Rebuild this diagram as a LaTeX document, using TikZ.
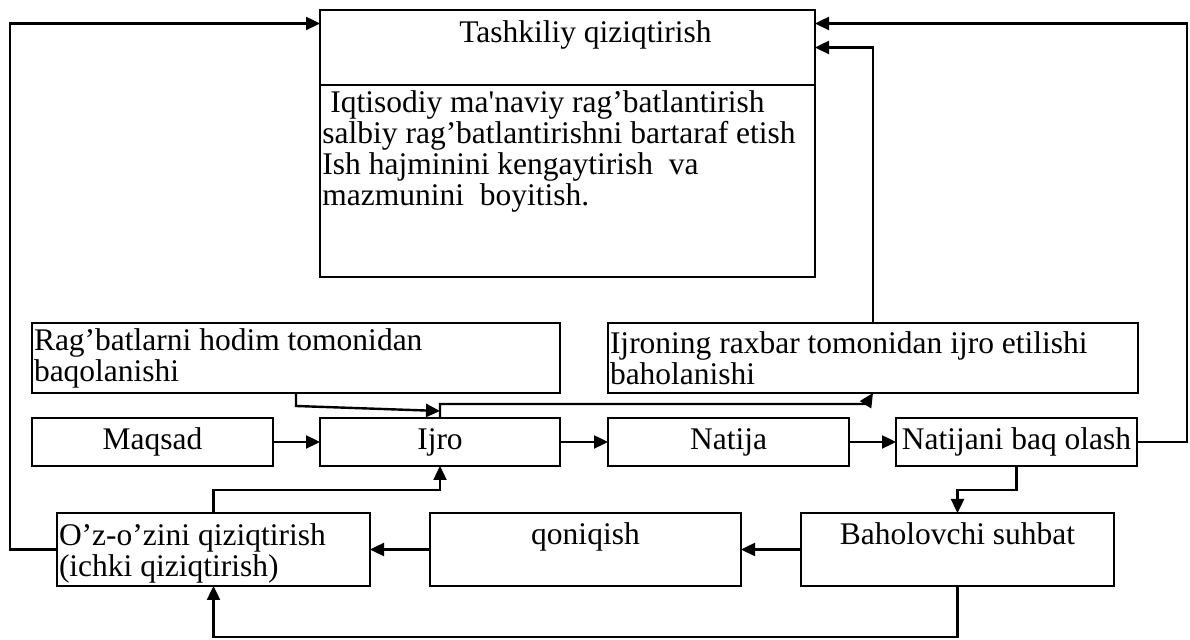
\documentclass[tikz,border=0pt]{standalone}
\usepackage{fontspec}
\setmainfont{Liberation Serif}
\usetikzlibrary{arrows.meta,positioning,calc}

\begin{document}
\begin{tikzpicture}[
  x=0.5pt, y=-0.5pt,
  font=\fontsize{15.75}{15.5}\selectfont,
  bx/.style={draw, line width=0.9pt, inner sep=1pt, outer sep=0pt, minimum height=24pt},
  lbx/.style={bx, align=flush left, minimum height=35pt},
  arr/.style={-{Triangle[length=7pt,width=6.5pt]}, line width=1.2pt}
]
\useasboundingbox (0,0) rectangle (1190,640);
% upper block
\node[bx, minimum width=247.5pt, minimum height=37.5pt, align=center] (tashT) at (567.5,47.5) {\hspace*{18pt}Tashkiliy qiziqtirish\\~};
\node[bx, minimum width=247.5pt, minimum height=96pt, anchor=north] (tashB) at (tashT.south) {};
\node[anchor=north west, align=flush left, inner sep=1pt] (tashTxt) at ([yshift=-1.5pt]tashB.north west)
  {\ Iqtisodiy ma\textquotesingle naviy rag’batlantirish\\
   salbiy rag’batlantirishni bartaraf etish\\
   Ish hajminini kengaytirish\ \ va\\
   mazmunini\ \ boyitish.};
% assessment boxes
\node[lbx, text width=262pt] (rag) at (296,358) {Rag’batlarni hodim tomonidan\\baqolanishi};
\node[lbx, text width=263pt] (ijron) at (873,358) {Ijroning raxbar tomonidan ijro etilishi\\baholanishi};
% main row
\node[bx, minimum width=120.5pt] (maqsad) at (152.5,442) {Maqsad};
\node[bx, minimum width=120pt] (ijro) at (440,442) {Ijro};
\node[bx, minimum width=120.5pt] (natija) at (728.5,442) {Natija};
\node[bx, minimum width=120.5pt] (natb) at (1016.5,442) {Natijani baq olash};
% bottom row
\node[lbx, text width=154.5pt, minimum height=36.5pt] (oz) at (213.5,549.5) {\rule{0pt}{15pt}O’z-o’zini qiziqtirish\\(ichki qiziqtirish)};
\node[bx, minimum width=155.5pt, minimum height=36.5pt, align=center] (qon) at (585.5,549.5) {qoniqish\\~};
\node[bx, minimum width=156.5pt, minimum height=36.5pt, align=center] (bah) at (957.5,549.5) {Baholovchi suhbat\\~};

\draw[arr] (maqsad) -- (ijro);
\draw[arr] (ijro) -- (natija);
\draw[arr] (natija) -- (natb);
\draw[arr] (natb.south) -- ++(0,24) -| (bah.north);
\draw[arr] (bah) -- (qon);
\draw[arr] (qon) -- (oz);
\draw[arr] (bah.south) -- ++(0,51) -| (oz.south);
\draw[arr] (oz.north) -- ++(0,-23) -| (ijro.south);
\draw[arr] (oz.west) -- ++(-47,0) |- ([yshift=12pt]tashT.west);
\draw[arr] (natb.east) -- ++(50,0) |- ([yshift=12pt]tashT.east);
\draw[arr] (ijron.north) |- (tashT.east);
\draw[arr] (rag.south) -- ++(0,13) -- ([yshift=3.5pt]ijro.north);
\draw[arr] (ijro.north) -- ++(0,-14) -- ([xshift=-3.5pt,yshift=-5.5pt]ijron.south) -- (ijron.south);
\end{tikzpicture}
\end{document}
